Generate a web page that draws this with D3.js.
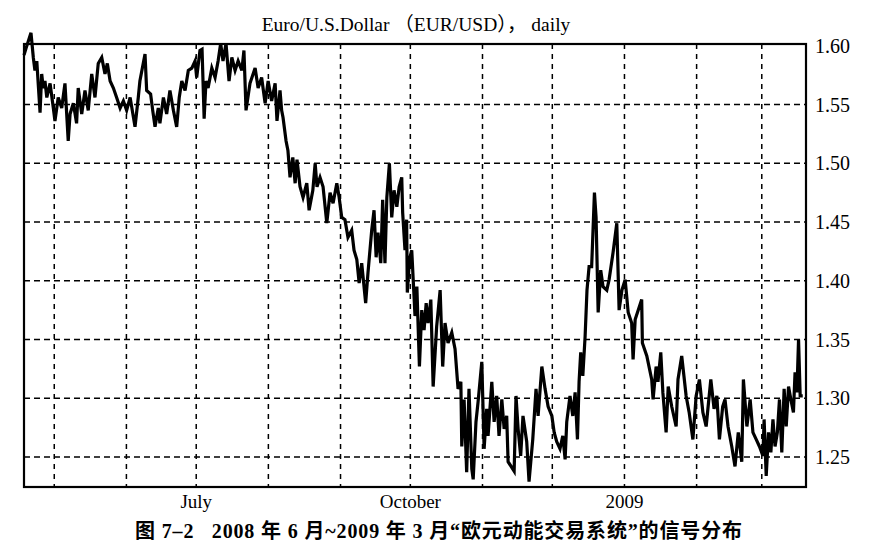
<!DOCTYPE html>
<html>
<head>
<meta charset="utf-8">
<script src="https://cdn.jsdelivr.net/npm/d3@7"></script>
<style>
body { margin: 0; background: #fff; }
svg { display: block; }
text { white-space: pre; }
</style>
</head>
<body>
<svg id="chart" width="890" height="552"></svg>
<script>
// EUR/USD daily close.
// dayOffsets = days after startDate, values = rate
var startDate = "2008-04-18";
var endDate = "2009-03-20";

var dayOffsets = [
  0.0, 0.9, 3.0, 4.0, 4.7, 5.5, 6.1, 6.9, 7.6, 8.3, 9.0, 9.8, 11.2, 12.6, 13.3, 14.7, 16.2, 17.6, 19.0, 19.8,
  21.2, 22.6, 23.3, 24.8, 26.2, 27.6, 29.1, 30.5, 31.9, 33.4, 34.8, 35.8, 37.0, 38.4, 39.8, 41.3, 42.7, 44.1, 45.6, 47.7,
  49.1, 49.8, 52.0, 52.7, 54.4, 55.3, 56.3, 57.7, 58.4, 59.9, 61.3, 62.7, 64.2, 65.6, 66.7, 67.8, 69.2, 70.6, 72.1, 73.5,
  74.2, 75.6, 76.5, 77.4, 78.2, 79.1, 80.7, 82.1, 83.4, 84.5, 85.5, 86.8, 88.1, 89.3, 90.7, 92.0, 93.6, 94.5, 95.4, 97.1,
  99.3, 100.6, 102.1, 103.6, 104.9, 106.4, 107.9, 108.7, 110.0, 110.7, 111.3, 112.6, 113.4, 114.3, 115.5, 116.5, 117.3, 118.6, 119.9, 121.5,
  122.5, 124.1, 125.1, 125.9, 127.2, 128.5, 130.1, 131.5, 132.8, 134.4, 135.4, 136.5, 137.9, 139.2, 140.8, 141.8, 143.0, 144.0, 145.1, 146.8,
  147.8, 149.4, 150.4, 151.3, 152.1, 153.3, 154.1, 155.1, 155.9, 157.0, 158.0, 159.0, 160.2, 161.2, 162.3, 162.7, 163.7, 164.4, 164.7, 165.6,
  166.6, 167.3, 168.0, 168.8, 169.9, 170.9, 171.9, 172.8, 173.6, 174.8, 175.8, 177.3, 178.8, 179.9, 180.9, 182.2, 183.8, 185.2, 186.5, 187.7,
  188.1, 189.1, 190.2, 191.2, 192.4, 193.0, 194.2, 195.1, 196.7, 197.7, 198.8, 199.4, 201.0, 202.0, 203.1, 204.1, 205.3, 206.3, 207.4, 208.0,
  210.6, 211.4, 212.3, 213.4, 214.4, 216.0, 217.0, 218.6, 220.0, 220.9, 222.5, 223.9, 225.2, 226.8, 227.8, 228.9, 230.3, 231.5, 232.5, 233.2,
  234.6, 235.8, 236.8, 237.8, 238.5, 239.2, 240.1, 241.1, 241.9, 242.8, 243.9, 245.1, 245.8, 246.7, 247.8, 248.8, 250.4, 251.4, 253.1, 254.7,
  255.7, 256.9, 258.3, 259.6, 261.1, 261.7, 262.6, 265.4, 265.7, 267.6, 269.7, 270.3, 271.6, 272.4, 273.6, 274.5, 275.9, 276.8, 278.3, 280.2,
  281.0, 282.6, 284.5, 285.8, 287.4, 288.8, 290.2, 291.7, 293.1, 295.1, 296.5, 297.7, 298.8, 300.2, 301.2, 302.5, 304.1, 305.5, 306.9, 308.4,
  309.1, 310.6, 312.0, 313.2, 314.6, 316.0, 317.5, 318.0, 318.9, 319.9, 320.9, 321.8, 322.7, 323.7, 324.6, 325.6, 326.6, 327.5, 328.5, 329.5,
  330.6, 331.3, 332.1, 332.8, 333.5, 334.6
];

var rates = [
  1.592, 1.598, 1.611, 1.590, 1.579, 1.587, 1.568, 1.543, 1.576, 1.564, 1.570, 1.556, 1.568, 1.547, 1.536, 1.556, 1.547, 1.568, 1.519, 1.542,
  1.551, 1.534, 1.564, 1.542, 1.562, 1.545, 1.576, 1.556, 1.585, 1.590, 1.576, 1.585, 1.570, 1.564, 1.556, 1.547, 1.553, 1.545, 1.556, 1.531,
  1.556, 1.570, 1.593, 1.562, 1.559, 1.545, 1.531, 1.547, 1.534, 1.556, 1.542, 1.562, 1.545, 1.531, 1.556, 1.570, 1.562, 1.579, 1.581, 1.587,
  1.573, 1.596, 1.597, 1.538, 1.570, 1.564, 1.581, 1.573, 1.587, 1.602, 1.587, 1.602, 1.570, 1.590, 1.579, 1.587, 1.579, 1.596, 1.545, 1.568,
  1.581, 1.564, 1.573, 1.551, 1.570, 1.553, 1.568, 1.536, 1.562, 1.545, 1.539, 1.519, 1.511, 1.488, 1.505, 1.483, 1.503, 1.480, 1.471, 1.483,
  1.460, 1.477, 1.500, 1.480, 1.488, 1.480, 1.449, 1.475, 1.466, 1.483, 1.471, 1.454, 1.452, 1.437, 1.443, 1.426, 1.418, 1.398, 1.415, 1.381,
  1.407, 1.443, 1.460, 1.420, 1.441, 1.415, 1.469, 1.415, 1.471, 1.500, 1.454, 1.477, 1.463, 1.480, 1.488, 1.458, 1.426, 1.452, 1.390, 1.418,
  1.426, 1.398, 1.370, 1.395, 1.327, 1.375, 1.358, 1.381, 1.364, 1.384, 1.310, 1.361, 1.392, 1.327, 1.364, 1.347, 1.356, 1.342, 1.308, 1.314,
  1.259, 1.299, 1.237, 1.308, 1.240, 1.231, 1.280, 1.297, 1.331, 1.257, 1.291, 1.268, 1.314, 1.280, 1.302, 1.268, 1.299, 1.274, 1.285, 1.246,
  1.238, 1.302, 1.274, 1.251, 1.285, 1.263, 1.229, 1.265, 1.308, 1.285, 1.327, 1.308, 1.293, 1.285, 1.271, 1.263, 1.257, 1.268, 1.248, 1.280,
  1.302, 1.285, 1.305, 1.265, 1.314, 1.339, 1.319, 1.353, 1.392, 1.412, 1.412, 1.475, 1.454, 1.373, 1.409, 1.395, 1.392, 1.401, 1.424, 1.449,
  1.375, 1.392, 1.401, 1.373, 1.364, 1.333, 1.367, 1.384, 1.347, 1.336, 1.316, 1.299, 1.327, 1.314, 1.339, 1.305, 1.271, 1.310, 1.293, 1.276,
  1.316, 1.336, 1.302, 1.288, 1.265, 1.302, 1.316, 1.288, 1.276, 1.316, 1.291, 1.302, 1.265, 1.293, 1.299, 1.276, 1.259, 1.242, 1.271, 1.246,
  1.316, 1.276, 1.299, 1.271, 1.265, 1.259, 1.251, 1.282, 1.234, 1.271, 1.254, 1.282, 1.259, 1.271, 1.299, 1.254, 1.308, 1.276, 1.310, 1.299,
  1.288, 1.322, 1.305, 1.350, 1.302, 1.302
];

var yTicks = [1.25, 1.30, 1.35, 1.40, 1.45, 1.50, 1.55, 1.60];
var xLabels = [
  { date: "2008-07-01", text: "July" },
  { date: "2008-10-01", text: "October" },
  { date: "2009-01-01", text: "2009" }
];
var titleText = "Euro/U.S.Dollar （EUR/USD）， daily";
var captionText = "图 7–2   2008 年 6 月~2009 年 3 月“欧元动能交易系统”的信号分布";

function drawChart() {
    var svg = d3.select("#chart");
    var plotLeft = 24, plotRight = 806, plotTop = 44, plotBottom = 487;

    var parseDay = d3.utcParse("%Y-%m-%d");
    var t0 = parseDay(startDate);
    var data = dayOffsets.map(function(d, i) {
        return { date: new Date(t0.getTime() + d * 864e5), value: rates[i] };
    });

    var x = d3.scaleUtc()
        .domain([t0, parseDay(endDate)])
        .range([plotLeft, plotRight]);

    var y = d3.scaleLinear()
        .domain([1.2245, 1.6015])
        .range([plotBottom, plotTop]);

    // grid
    var months = d3.utcMonth.range(x.domain()[0], x.domain()[1]);
    svg.append("g").selectAll("line")
        .data(months)
        .enter().append("line")
        .attr("x1", function(d){ return x(d); })
        .attr("x2", function(d){ return x(d); })
        .attr("y1", plotTop)
        .attr("y2", plotBottom)
        .attr("stroke", "#000")
        .attr("stroke-width", 1.5)
        .attr("stroke-dasharray", "5,5");

    svg.append("g").selectAll("line")
        .data(yTicks.slice(0, -1))
        .enter().append("line")
        .attr("x1", plotLeft)
        .attr("x2", plotRight)
        .attr("y1", function(d){ return y(d); })
        .attr("y2", function(d){ return y(d); })
        .attr("stroke", "#000")
        .attr("stroke-width", 1.5)
        .attr("stroke-dasharray", "6,4");

    // frame
    svg.append("rect")
        .attr("x", plotLeft)
        .attr("y", plotTop)
        .attr("width", plotRight - plotLeft)
        .attr("height", plotBottom - plotTop)
        .attr("fill", "none")
        .attr("stroke", "#000")
        .attr("stroke-width", 2.2);

    // right axis labels
    svg.append("g").selectAll("text")
        .data(yTicks)
        .enter().append("text")
        .attr("x", plotRight + 9)
        .attr("y", function(d){ return y(d) + 7; })
        .attr("font-family", "Liberation Serif, serif")
        .attr("font-size", "20px")
        .attr("fill", "#000")
        .text(function(d){ return d3.format(".2f")(d); });

    // bottom labels
    svg.append("g").selectAll("text")
        .data(xLabels)
        .enter().append("text")
        .attr("x", function(d){ return x(parseDay(d.date)); })
        .attr("y", 508)
        .attr("text-anchor", "middle")
        .attr("font-family", "Liberation Serif, serif")
        .attr("font-size", "19px")
        .attr("fill", "#000")
        .text(function(d){ return d.text; });

    // line
    var line = d3.line()
        .x(function(d){ return x(d.date); })
        .y(function(d){ return y(d.value); });

    svg.append("path")
        .datum(data)
        .attr("d", line)
        .attr("fill", "none")
        .attr("stroke", "#000")
        .attr("stroke-width", 3.2)
        .attr("stroke-linejoin", "miter");

    // title + caption
    svg.append("text")
        .attr("x", 416)
        .attr("y", 31)
        .attr("text-anchor", "middle")
        .attr("font-family", "Liberation Serif, Noto Sans CJK SC, serif")
        .attr("font-size", "19.5px")
        .attr("fill", "#000")
        .text(titleText);

    svg.append("text")
        .attr("x", 135)
        .attr("y", 538)
        .attr("font-family", "Liberation Serif, Noto Sans CJK SC, serif")
        .attr("font-weight", "bold")
        .attr("font-size", "20px")
        .attr("textLength", 607)
        .attr("lengthAdjust", "spacing")
        .attr("fill", "#000")
        .text(captionText);
}

drawChart();
</script>
</body>
</html>
